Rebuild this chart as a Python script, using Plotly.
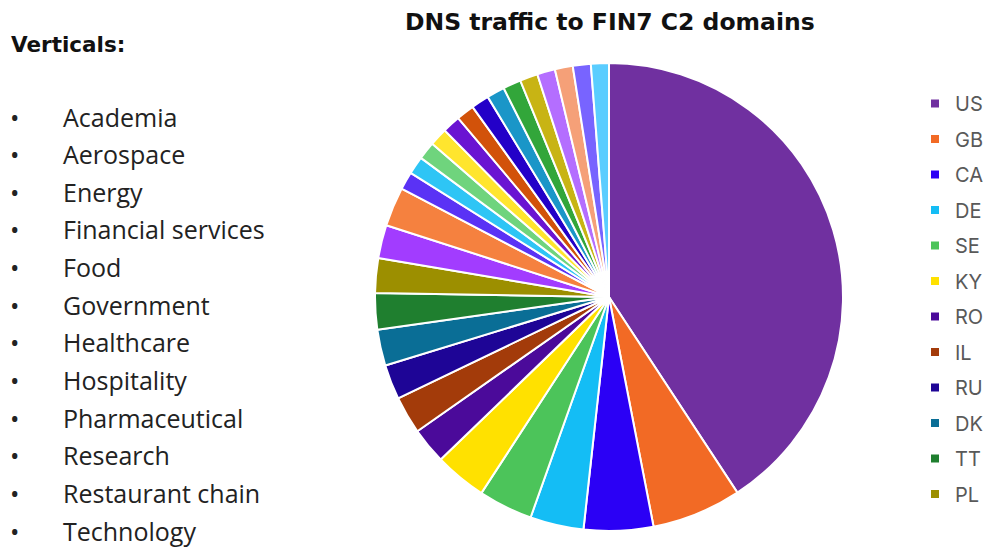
import plotly.graph_objects as go

W, H = 989, 548

# ---- data ----
countries = ["US", "GB", "CA", "DE", "SE", "KY", "RO", "IL", "RU", "DK", "TT", "PL",
             "C13", "C14", "C15", "C16", "C17", "C18", "C19", "C20",
             "C21", "C22", "C23", "C24", "C25", "C26", "C27", "C28"]
share = [40.8, 6.2, 4.8, 3.7, 3.75, 3.6, 2.5, 2.6, 2.4, 2.5, 2.5, 2.4,
         2.3, 2.7, 1.24, 1.24, 1.24, 1.24, 1.24, 1.24,
         1.24, 1.24, 1.24, 1.24, 1.24, 1.24, 1.24, 1.24]
colors = ["#7030A0", "#F26A25", "#2B00F5", "#14BDF5", "#4CC45A", "#FFE100",
          "#4B0A9A", "#A33B0A", "#1E0596", "#0A6E96", "#1F7F2F", "#9C8F00",
          "#A23CFF", "#F5813F", "#5A32F5", "#2EC5F5", "#6FD47D", "#FFE52E",
          "#6A14D2", "#D2520A", "#2300C8", "#1A96C8", "#32A63A", "#C8B414",
          "#B46EFF", "#F5A078", "#7864FF", "#5ACDFF"]
legend_labels = countries[:12]
verticals = ["Academia", "Aerospace", "Energy", "Financial services", "Food",
             "Government", "Healthcare", "Hospitality", "Pharmaceutical",
             "Research", "Restaurant chain", "Technology"]
title_text = "DNS traffic to FIN7 C2 domains"

fig = go.Figure()

# pie
cx, cy, r = 609, 297, 234
fig.add_trace(go.Pie(
    labels=countries, values=share, sort=False, direction="clockwise", rotation=0,
    marker=dict(colors=colors, line=dict(color="white", width=2)),
    textinfo="none", showlegend=False, hoverinfo="label+percent",
    domain=dict(x=[(cx - r) / W, (cx + r) / W], y=[1 - (cy + r) / H, 1 - (cy - r) / H]),
))

# legend entries (first 12 countries)
for i, lab in enumerate(legend_labels):
    fig.add_trace(go.Scatter(
        x=[None], y=[None], mode="markers", name=lab, legendgroup=lab,
        marker=dict(symbol="square", size=8, color=colors[i]),
        hoverinfo="skip",
    ))

annotations = [
    dict(text="<b>" + title_text + "</b>", x=610 / W, y=1 - 22 / H, xref="paper", yref="paper",
         showarrow=False, xanchor="center", yanchor="middle",
         font=dict(family="DejaVu Sans", size=23.5, color="#111111")),
    dict(text="<b>Verticals:</b>", x=9 / W, y=1 - 45 / H, xref="paper", yref="paper",
         showarrow=False, xanchor="left", yanchor="middle",
         font=dict(family="DejaVu Sans", size=21.5, color="#111111")),
]
y0, dy = 116.5, 37.65
for i, v in enumerate(verticals):
    yy = 1 - (y0 + i * dy) / H
    annotations.append(dict(text="•", x=8 / W, y=yy, xref="paper", yref="paper",
                            showarrow=False, xanchor="left", yanchor="middle",
                            font=dict(family="Open Sans", size=25, color="#222222")))
    annotations.append(dict(text=v, x=61 / W, y=yy, xref="paper", yref="paper",
                            showarrow=False, xanchor="left", yanchor="middle",
                            font=dict(family="Open Sans", size=25, color="#222222")))

fig.update_layout(
    width=W, height=H,
    margin=dict(l=0, r=0, t=0, b=0),
    paper_bgcolor="white", plot_bgcolor="white",
    xaxis=dict(visible=False), yaxis=dict(visible=False),
    showlegend=True,
    legend=dict(x=915 / W, y=1 - 84 / H, xanchor="left", yanchor="top",
                font=dict(family="Inter", size=20, color="#595959"),
                tracegroupgap=6.5, bgcolor="rgba(0,0,0,0)"),
    annotations=annotations,
)

fig.write_html("out.html")
